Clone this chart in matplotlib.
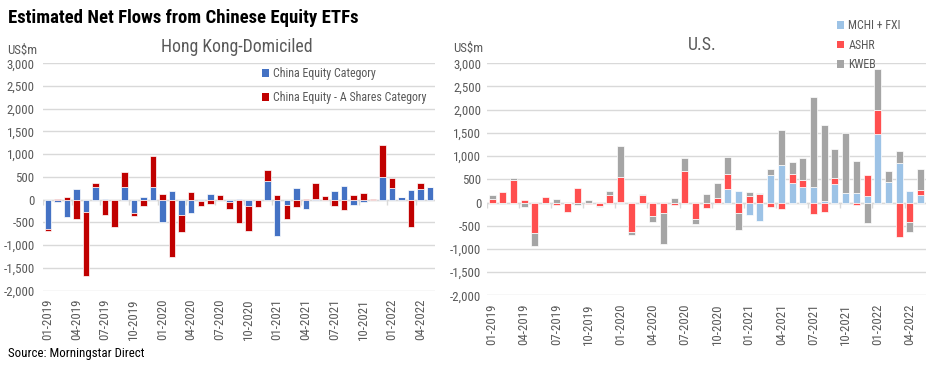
import matplotlib
matplotlib.use('Agg')
import matplotlib.pyplot as plt
import numpy as np
from matplotlib import font_manager
from matplotlib.patches import Patch
from matplotlib.ticker import FuncFormatter

names = {f.name for f in font_manager.fontManager.ttflist}
prefs = ['Roboto Condensed', 'Barlow Semi Condensed', 'Archivo Narrow',
         'Asap Condensed', 'Liberation Sans Narrow', 'DejaVu Sans']
cond = next(p for p in prefs if p in names)
plt.rcParams['font.family'] = [cond, 'DejaVu Sans']

# ---------------- data ----------------
months = ["01-2019", "02-2019", "03-2019", "04-2019", "05-2019", "06-2019",
          "07-2019", "08-2019", "09-2019", "10-2019", "11-2019", "12-2019",
          "01-2020", "02-2020", "03-2020", "04-2020", "05-2020", "06-2020",
          "07-2020", "08-2020", "09-2020", "10-2020", "11-2020", "12-2020",
          "01-2021", "02-2021", "03-2021", "04-2021", "05-2021", "06-2021",
          "07-2021", "08-2021", "09-2021", "10-2021", "11-2021", "12-2021",
          "01-2022", "02-2022", "03-2022", "04-2022", "05-2022"]
tick_labels = ["01-2019", "04-2019", "07-2019", "10-2019", "01-2020", "04-2020",
               "07-2020", "10-2020", "01-2021", "04-2021", "07-2021", "10-2021",
               "01-2022", "04-2022"]

hk_china_equity = [-650, -50, -370, 245, -280, 285, 20, 0, 285, -285, 65, 270,
                   -500, 200, -330, -300, -30, 130, 0, -60, 20, -150, 0, 420,
                   -790, -110, 265, -200, 20, 0, 200, 310, -110, -60, 0, 490,
                   265, 65, 220, 245, 285]
hk_a_shares = [-30, 25, 65, -430, -1390, 90, -330, -590, 330, -80, -145, 700,
               130, -1270, -390, 175, -110, -100, 110, -150, -520, -530, -170, 225,
               110, -310, -170, 25, 355, 90, -150, -220, 110, 140, 25, 710,
               220, 0, -610, 130, 0]

us_mchi_fxi = [0, 0, 0, 0, 0, 0, 0, 0, 0, 0, 0, 0,
               20, 0, -30, 0, 0, 0, 0, 0, 0, 0, 288, 245,
               -273, -402, 590, 805, 420, 330, 330, 30, 400, 200, 200, 145,
               1485, 440, 850, 245, 158]
us_ashr = [70, 220, 480, 50, -650, 115, -50, -210, 310, -35, -70, 160,
           525, -645, 160, -285, -225, -45, 675, -360, -115, 100, 325, -225,
           135, 185, -100, -145, 195, 150, -250, -210, 135, 0, -45, 445,
           515, 0, -750, -415, 110]
us_kweb = [90, -30, 45, -95, -290, -30, 70, 0, -50, 50, -30, 85,
           670, -50, 30, -130, -670, 95, 280, -100, 180, 315, 370, -370,
           85, 15, 130, 755, 260, 485, 1945, 1640, 620, 1290, 695, -440,
           875, 235, 255, -215, 450]

hk_series = [("China Equity Category", hk_china_equity, "#4472C4"),
             ("China Equity - A Shares Category", hk_a_shares, "#C00000")]
us_series = [("MCHI + FXI", us_mchi_fxi, "#9DC3E6"),
             ("ASHR", us_ashr, "#FF4F4F"),
             ("KWEB", us_kweb, "#A5A5A5")]

TXT = "#595959"
GRID = "#D9D9D9"


def stacked(ax, series, width):
    x = np.arange(len(months))
    pos = np.zeros(len(months))
    neg = np.zeros(len(months))
    for name, vals, col in series:
        v = np.asarray(vals, dtype=float)
        bottom = np.where(v >= 0, pos, neg)
        ax.bar(x, v, width=width, bottom=bottom, color=col,
               edgecolor="white", linewidth=0.5, zorder=3, label=name)
        pos = pos + np.where(v >= 0, v, 0)
        neg = neg + np.where(v < 0, v, 0)


def style(ax, ypad):
    ax.set_xlim(-0.5, len(months) - 0.5)
    ax.set_ylim(-2000, 3000)
    ax.set_yticks(np.arange(-2000, 3001, 500))
    ax.yaxis.set_major_formatter(FuncFormatter(lambda v, p: f"{int(v):,}"))
    idx = [months.index(t) for t in tick_labels]
    ax.set_xticks(idx)
    ax.set_xticklabels(tick_labels, rotation=90)
    ax.grid(axis="y", color=GRID, linewidth=1.0, zorder=0)
    for s in ax.spines.values():
        s.set_visible(False)
    ax.tick_params(axis="both", length=0, labelsize=9.3, colors=TXT)
    ax.tick_params(axis="y", pad=ypad)
    ax.tick_params(axis="x", pad=6)
    ax.axhline(0, color=GRID, linewidth=1.0, zorder=2)
    bounds = np.arange(-0.5, len(months), 3)
    ax.vlines(bounds, -110, 0, color=GRID, linewidth=1.0, zorder=2)


fig = plt.figure(figsize=(9.37, 3.67), dpi=100)

ax1 = fig.add_axes([43 / 937, 1 - 290.6 / 367, 392 / 937, 227.3 / 367])
stacked(ax1, hk_series, 0.68)
style(ax1, 6)

ax2 = fig.add_axes([486.7 / 937, 1 - 295.3 / 367, 439.3 / 937, 232 / 367])
stacked(ax2, us_series, 0.66)
style(ax2, 4)

# texts
fig.text(8 / 937, 1 - 18 / 367, "Estimated Net Flows from Chinese Equity ETFs",
         fontsize=13.5, fontweight="bold", color="black", va="center", ha="left")
fig.text(237 / 937, 1 - 47 / 367, "Hong Kong-Domiciled", fontsize=12.8,
         color=TXT, ha="center", va="center")
fig.text(702 / 937, 1 - 45 / 367, "U.S.", fontsize=12.8,
         color=TXT, ha="center", va="center")
fig.text(7 / 937, 1 - 50 / 367, "US$m", fontsize=9.3, color=TXT, ha="left", va="center")
fig.text(483 / 937, 1 - 48 / 367, "US$m", fontsize=9.3, color=TXT, ha="right", va="center")
fig.text(8 / 937, 1 - 354 / 367, "Source: Morningstar Direct", fontsize=9.3,
         color="black", ha="left", va="center")

h1 = [Patch(facecolor=c, label=n) for n, v, c in hk_series]
fig.legend(handles=h1, loc="upper left", bbox_to_anchor=(262 / 937, 1 - 67 / 367),
           frameon=False, fontsize=8.6, handlelength=0.6, handleheight=0.6,
           handletextpad=0.35, labelspacing=0.95, borderpad=0, borderaxespad=0,
           labelcolor=TXT)
h2 = [Patch(facecolor=c, label=n) for n, v, c in us_series]
fig.legend(handles=h2, loc="upper left", bbox_to_anchor=(837 / 937, 1 - 19 / 367),
           frameon=False, fontsize=8.6, handlelength=0.6, handleheight=0.6,
           handletextpad=0.35, labelspacing=0.55, borderpad=0, borderaxespad=0,
           labelcolor=TXT)

fig.savefig("out.png", dpi=100)
